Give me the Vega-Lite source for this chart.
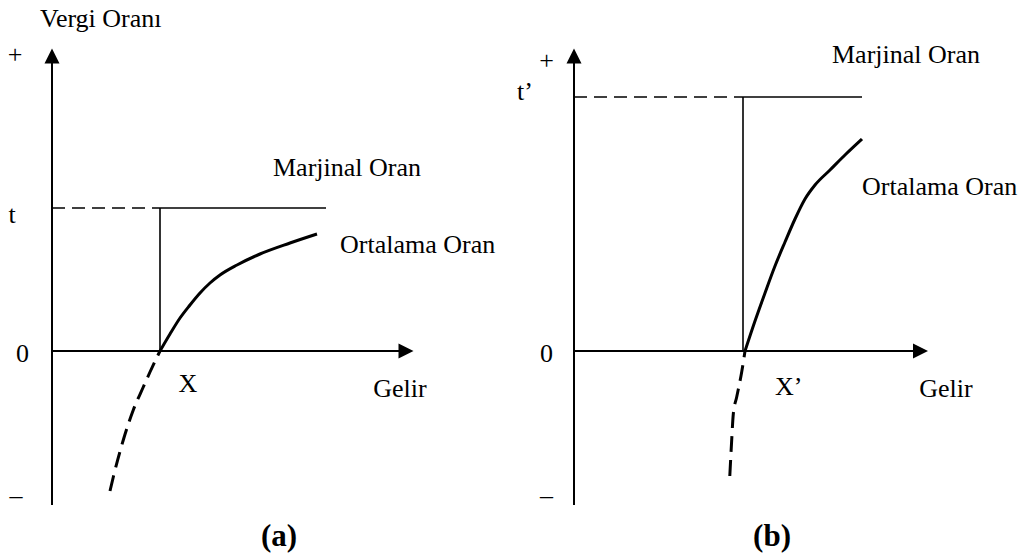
{
  "$schema": "https://vega.github.io/schema/vega-lite/v6.json",
  "width": 1031,
  "height": 555,
  "autosize": {"type": "fit", "contains": "padding"},
  "padding": 0,
  "background": "white",
  "config": {"view": {"stroke": null}, "text": {"font": "Liberation Serif", "fontSize": 26, "color": "black"}},
  "datasets": {
    "axisV": [{"x": 52, "y": -154, "y2": 289}, {"x": 574, "y": -154, "y2": 289}],
    "axisH": [{"x": 52, "x2": 399, "y": 0}, {"x": 574, "x2": 914, "y": 0}],
    "guideSolid": [{"x": 160, "x2": 326, "y": 143}, {"x": 743, "x2": 862, "y": 254}],
    "guideDashed": [{"x": 52, "x2": 160, "y": 143}, {"x": 574, "x2": 743, "y": 254}],
    "guideV": [{"x": 160, "y": 0, "y2": 143}, {"x": 743, "y": 0, "y2": 254}],
    "curveSolid": [
      {"panel": "a", "x": 160, "y": 0}, {"panel": "a", "x": 170, "y": 17}, {"panel": "a", "x": 180, "y": 33},
      {"panel": "a", "x": 190, "y": 46}, {"panel": "a", "x": 200, "y": 58}, {"panel": "a", "x": 210, "y": 68},
      {"panel": "a", "x": 220, "y": 76}, {"panel": "a", "x": 237, "y": 86}, {"panel": "a", "x": 260, "y": 97},
      {"panel": "a", "x": 290, "y": 108}, {"panel": "a", "x": 317, "y": 117},
      {"panel": "b", "x": 745, "y": 0}, {"panel": "b", "x": 755, "y": 30}, {"panel": "b", "x": 765, "y": 58},
      {"panel": "b", "x": 775, "y": 85}, {"panel": "b", "x": 785, "y": 109}, {"panel": "b", "x": 795, "y": 132},
      {"panel": "b", "x": 805, "y": 152}, {"panel": "b", "x": 815, "y": 166}, {"panel": "b", "x": 830, "y": 181},
      {"panel": "b", "x": 846, "y": 197}, {"panel": "b", "x": 862, "y": 212}
    ],
    "curveDashed": [
      {"panel": "a", "x": 110, "y": -140}, {"panel": "a", "x": 113.3, "y": -126}, {"panel": "a", "x": 123.3, "y": -89},
      {"panel": "a", "x": 133.3, "y": -59}, {"panel": "a", "x": 143.3, "y": -36}, {"panel": "a", "x": 150, "y": -21},
      {"panel": "a", "x": 160, "y": 0},
      {"panel": "b", "x": 729.8, "y": -125}, {"panel": "b", "x": 731.7, "y": -89}, {"panel": "b", "x": 733.3, "y": -63},
      {"panel": "b", "x": 736.7, "y": -46}, {"panel": "b", "x": 741.7, "y": -21}, {"panel": "b", "x": 745, "y": 0}
    ],
    "arrowUp": [{"x": 52, "y": 295}, {"x": 574, "y": 295}],
    "arrowRight": [{"x": 406, "y": 0}, {"x": 920.5, "y": 0}],
    "labelsLeft": [
      {"x": 40, "y": 324, "label": "Vergi Oranı"},
      {"x": 273, "y": 175, "label": "Marjinal Oran"},
      {"x": 340, "y": 98, "label": "Ortalama Oran"},
      {"x": 517, "y": 251, "label": "t’"},
      {"x": 775, "y": -44, "label": "X’"},
      {"x": 832, "y": 288, "label": "Marjinal Oran"},
      {"x": 862, "y": 156, "label": "Ortalama Oran"}
    ],
    "labelsCenter": [
      {"x": 15, "y": 288, "label": "+"},
      {"x": 12, "y": 128, "label": "t"},
      {"x": 22.5, "y": -11, "label": "0"},
      {"x": 16, "y": -153, "label": "–"},
      {"x": 188, "y": -41, "label": "X"},
      {"x": 400, "y": -46, "label": "Gelir"},
      {"x": 546.7, "y": 282, "label": "+"},
      {"x": 546.5, "y": -11, "label": "0"},
      {"x": 546.5, "y": -153, "label": "–"},
      {"x": 946, "y": -46, "label": "Gelir"}
    ],
    "captions": [
      {"x": 279, "y": -195, "label": "(a)"},
      {"x": 772, "y": -195, "label": "(b)"}
    ]
  },
  "encoding": {
    "x": {"field": "x", "type": "quantitative", "scale": {"domain": [0, 1031], "nice": false, "zero": false}, "axis": null},
    "y": {"field": "y", "type": "quantitative", "scale": {"domain": [-204, 351], "nice": false, "zero": false}, "axis": null}
  },
  "layer": [
    {"data": {"name": "axisV"}, "mark": {"type": "rule", "color": "black", "strokeWidth": 2},
     "encoding": {"y2": {"field": "y2"}}},
    {"data": {"name": "axisH"}, "mark": {"type": "rule", "color": "black", "strokeWidth": 2},
     "encoding": {"x2": {"field": "x2"}}},
    {"data": {"name": "guideSolid"}, "mark": {"type": "rule", "color": "black", "strokeWidth": 1.6},
     "encoding": {"x2": {"field": "x2"}}},
    {"data": {"name": "guideDashed"}, "mark": {"type": "rule", "color": "black", "strokeWidth": 1.6, "strokeDash": [13, 7]},
     "encoding": {"x2": {"field": "x2"}}},
    {"data": {"name": "guideV"}, "mark": {"type": "rule", "color": "black", "strokeWidth": 1.6},
     "encoding": {"y2": {"field": "y2"}}},
    {"data": {"name": "curveSolid"}, "mark": {"type": "line", "color": "black", "strokeWidth": 3, "interpolate": "monotone"},
     "encoding": {"detail": {"field": "panel"}}},
    {"data": {"name": "curveDashed"}, "mark": {"type": "line", "color": "black", "strokeWidth": 3, "interpolate": "monotone", "strokeDash": [16, 8]},
     "encoding": {"detail": {"field": "panel"}}},
    {"data": {"name": "arrowUp"}, "mark": {"type": "point", "shape": "M0,-1L1,1L-1,1Z", "filled": true, "color": "black", "opacity": 1, "size": 225}},
    {"data": {"name": "arrowRight"}, "mark": {"type": "point", "shape": "M1,0L-1,-1L-1,1Z", "filled": true, "color": "black", "opacity": 1, "size": 225}},
    {"data": {"name": "labelsLeft"}, "mark": {"type": "text", "align": "left", "baseline": "alphabetic", "font": "Liberation Serif", "fontSize": 26},
     "encoding": {"text": {"field": "label"}}},
    {"data": {"name": "labelsCenter"}, "mark": {"type": "text", "align": "center", "baseline": "alphabetic", "font": "Liberation Serif", "fontSize": 26},
     "encoding": {"text": {"field": "label"}}},
    {"data": {"name": "captions"}, "mark": {"type": "text", "align": "center", "baseline": "alphabetic", "fontWeight": "bold", "fontSize": 31, "font": "Liberation Serif"},
     "encoding": {"text": {"field": "label"}}}
  ]
}
